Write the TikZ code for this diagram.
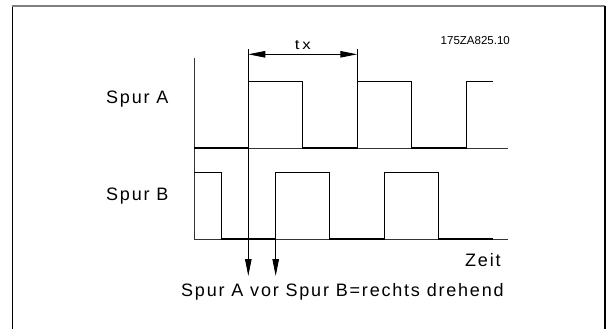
\documentclass[tikz,border=0pt]{standalone}
\usepackage{fontspec}
\setmainfont{Liberation Sans}
\newfontfamily\isofont[LetterSpace=10]{Liberation Sans}
\newfontfamily\dimfont[LetterSpace=20,FakeStretch=1.2]{Liberation Sans}
\usetikzlibrary{arrows.meta,positioning}

\begin{document}
\begin{tikzpicture}[x=1pt, y=-1pt,
  axis/.style={line width=0.8pt, black!80},
  signal/.style={line width=0.8pt, black},
  low/.style={line width=2.2pt, black},
  marker/.style={line width=0.9pt, -{Triangle[length=17pt,width=6.5pt]}},
  dim/.style={line width=0.9pt, {Triangle[length=17pt,width=6.5pt]}-{Triangle[length=17pt,width=6.5pt]}},
  spurlabel/.style={font=\isofont\fontsize{18}{18}\selectfont, inner sep=0pt, anchor=base west}]
  \useasboundingbox (0,0) rectangle (606,329);
  % frame
  \draw[line width=1.4pt, black] (12.3,335) -- (12.3,6);
  \draw[line width=1.4pt, black!50] (12.3,6) -- (605,6);
  \draw[line width=1.4pt, black] (605,6) -- (605,335);
  % axes
  \draw[axis] (194,58.3) -- (194,239.3) -- (508,239.3);
  \draw[axis] (194,148.3) -- (508,148.3);
  % Spur A
  \draw[signal] (194,148) -- (248.3,148) |- (302.8,81.7) |- (357.3,148) |- (411.8,81.7) |- (466.3,148) |- (492.7,81.7);
  \draw[low] (194,148) -- (248.3,148);
  \draw[low] (302.8,148) -- (357.3,148);
  \draw[low] (411.8,148) -- (466.3,148);
  % Spur B
  \draw[signal] (194,172.7) -- (221,172.7) |- (275.7,239.3) |- (329.7,172.7) |- (384.3,239.3) |- (438.3,172.7) |- (492.7,239.3);
  \draw[low] (221,239.3) -- (275.7,239.3);
  \draw[low] (329.7,239.3) -- (384.3,239.3);
  \draw[low] (438.3,239.3) -- (492.7,239.3);
  % edges and period
  \coordinate (aedge) at (248.3,49.5);
  \coordinate (aend) at (248.3,276);
  \coordinate (bedge) at (275.7,239.3);
  \coordinate (bend) at (275.7,276);
  \coordinate (txtop) at (357.3,49.5);
  \coordinate (txfoot) at (357.3,81.7);
  \coordinate (txl) at (248.3,54.3);
  \coordinate (txr) at (357.3,54.3);
  \draw[marker] (aedge) -- (aend);
  \draw[marker] (bedge) -- (bend);
  \draw[line width=0.9pt] (txtop) -- (txfoot);
  \draw[dim] (txl) -- (txr) node[midway, above=4.3pt, inner sep=0pt, font=\dimfont\fontsize{14}{14}\selectfont] (tx) {tx};
  % texts
  \node[font=\fontsize{11.5}{12}\selectfont, inner sep=0pt, anchor=base east] (code) at (510,45) {175ZA825.10};
  \node[spurlabel] (spura) at (106,103.3) {Spur A};
  \node[spurlabel] (spurb) at (106,200.7) {Spur B};
  \node[spurlabel] (zeit) at (465,266.7) {Zeit};
  \node[spurlabel] (rule) at (181,296) {Spur A vor Spur B=rechts drehend};
\end{tikzpicture}
\end{document}
